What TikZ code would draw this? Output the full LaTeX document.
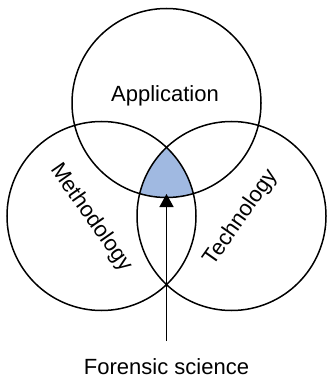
\documentclass[tikz,border=0pt]{standalone}
\usepackage{fontspec}
\setmainfont{Liberation Sans}
\usetikzlibrary{arrows.meta}
\definecolor{overlap}{RGB}{160,185,225}
\begin{document}
\begin{tikzpicture}[x=1pt,y=-1pt,
  field/.style={circle, draw=black, line width=1.5pt, minimum size=189pt, inner sep=0pt},
  caption/.style={font=\fontsize{22}{26}\selectfont, inner sep=0pt},
  pointer/.style={line width=1.5pt, -{Triangle[length=13pt,width=14pt]}}]
  \useasboundingbox (0,0) rectangle (326,379);
  % centres of the three fields
  \coordinate (cA) at (166.5,103);
  \coordinate (cM) at (101.5,216);
  \coordinate (cT) at (231.5,216);
  % common region of all three fields
  \begin{scope}
    \clip (cA) circle[radius=94.5pt];
    \clip (cM) circle[radius=94.5pt];
    \fill[overlap] (cT) circle[radius=94.5pt];
  \end{scope}
  \node[field] (app)  at (cA) {};
  \node[field] (meth) at (cM) {};
  \node[field] (tech) at (cT) {};
  % labels
  \node[caption, anchor=base] (lapp) at (165,102) {Application};
  \node[caption, rotate=-55] (lmeth) at (91,218) {Methodology};
  \node[caption, rotate=55] (ltech) at (241,218) {Technology};
  \node[caption, anchor=base] (fs) at (166.5,374) {Forensic science};
  % arrow into the common region
  \coordinate (tail) at (166.5,341);
  \coordinate (tip) at (166.5,194);
  \draw[pointer] (tail) -- (tip);
\end{tikzpicture}
\end{document}
